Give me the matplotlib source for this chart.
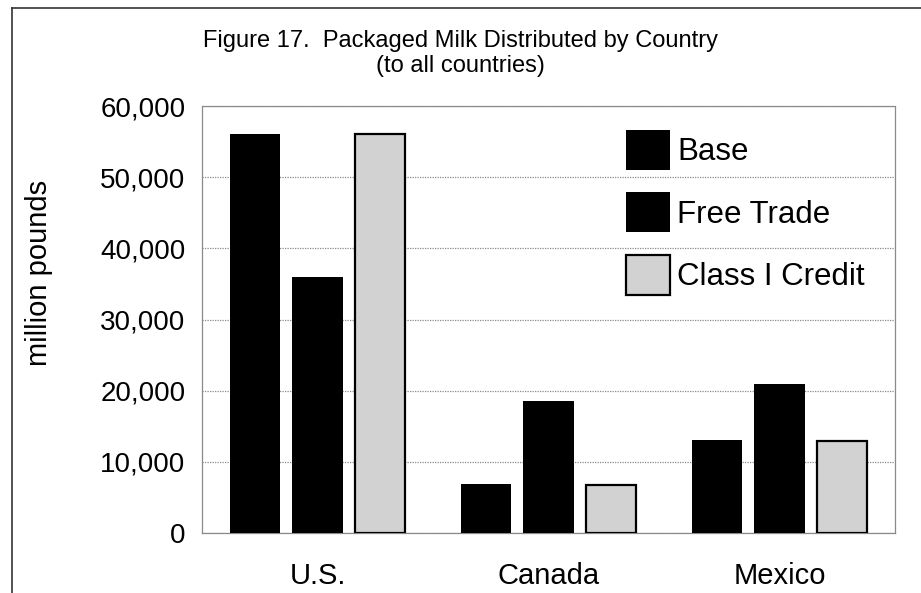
import matplotlib

matplotlib.use("Agg")
import matplotlib.pyplot as plt
import numpy as np

plt.rcParams["font.family"] = ["Liberation Sans", "DejaVu Sans"]

countries = ["U.S.", "Canada", "Mexico"]
series = ["Base", "Free Trade", "Class I Credit"]
base = [56000, 6900, 13000]
free_trade = [36000, 18600, 20900]
class_i_credit = [56000, 6800, 12900]
yticks = [0, 10000, 20000, 30000, 40000, 50000, 60000]

colors = ["#000000", "#000000", "#d2d2d2"]

fig = plt.figure(figsize=(9.21, 5.93), dpi=100)
ax = fig.add_axes([0.2193, 0.1012, 0.7525, 0.72])

x = np.arange(len(countries))
width = 0.218
step = 0.27
for i, (name, vals) in enumerate(zip(series, [base, free_trade, class_i_credit])):
    ax.bar(x + (i - 1) * step, vals, width=width, color=colors[i],
           edgecolor="#000000", linewidth=1.6 if i == 2 else 0,
           label=name, zorder=3)

ax.set_xlim(-0.5, 2.5)
ax.set_ylim(0, 60000)
ax.set_yticks(yticks)
ax.set_yticklabels([f"{v:,}" for v in yticks])
ax.set_xticks(x)
ax.set_xticklabels(countries)
ax.tick_params(axis="both", length=0, labelsize=20)
ax.tick_params(axis="x", labelsize=21, pad=21)
ax.tick_params(axis="y", pad=12)

ax.grid(axis="y", color="#8a8a8a", linestyle=(0, (1, 1)), linewidth=0.9, zorder=0)
for sp in ax.spines.values():
    sp.set_color("#8a8a8a")
    sp.set_linestyle((0, (1, 1)))
    sp.set_linewidth(0.9)

ax.set_ylabel("million pounds", fontsize=21)
ax.yaxis.set_label_coords(-0.215, 0.61)

fig.text(0.5, 0.931, "Figure 17.  Packaged Milk Distributed by Country",
         ha="center", va="center", fontsize=17)
fig.text(0.5, 0.889, "(to all countries)", ha="center", va="center",
         fontsize=17)

leg = fig.legend(loc="upper left", bbox_to_anchor=(626 / 921, 1 - 130 / 593),
                 frameon=False, fontsize=22.5, borderpad=0, borderaxespad=0,
                 handleheight=1.59, handlelength=1.41, labelspacing=0.72,
                 handletextpad=0.22)

# outer frame of the page figure
fig.add_artist(plt.Line2D([12 / 921, 12 / 921], [0, 1 - 8 / 593],
                          transform=fig.transFigure, color="#333333", lw=1.2))
fig.add_artist(plt.Line2D([12 / 921, 1], [1 - 8 / 593, 1 - 8 / 593],
                          transform=fig.transFigure, color="#333333", lw=1.2))

fig.savefig("out.png", dpi=100, facecolor="white")
